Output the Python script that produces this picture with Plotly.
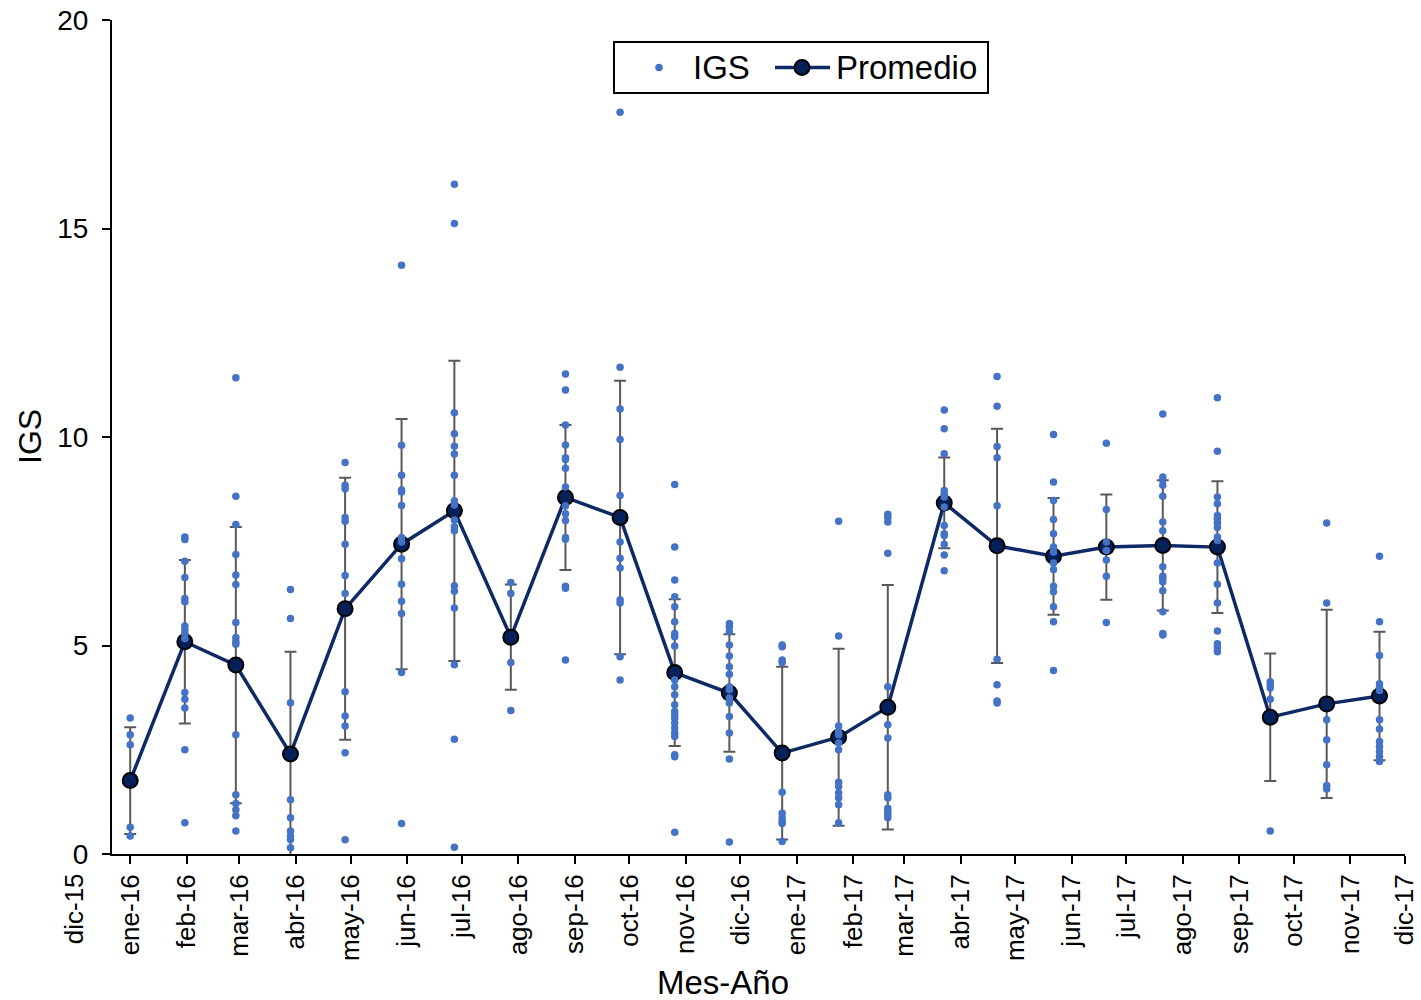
import plotly.graph_objects as go
from datetime import datetime

# Sampling dates (one campaign per month) and monthly summary statistics
sample_dates = [
    "2016-01-01", "2016-01-31", "2016-02-28", "2016-03-29", "2016-04-28", "2016-05-29",
    "2016-06-27", "2016-07-28", "2016-08-27", "2016-09-26", "2016-10-26", "2016-11-25",
    "2016-12-24", "2017-01-24", "2017-02-20", "2017-03-23", "2017-04-21", "2017-05-22",
    "2017-06-20", "2017-07-21", "2017-08-20", "2017-09-18", "2017-10-19", "2017-11-17",
]

promedio = [
    1.76, 5.09, 4.53, 2.40, 5.88, 7.43, 8.23, 5.20, 8.55, 8.07, 4.35, 3.86,
    2.42, 2.80, 3.52, 8.42, 7.39, 7.14, 7.36, 7.40, 7.36, 3.28, 3.60, 3.79,
]

desviacion = [
    1.28, 1.96, 3.31, 2.45, 3.14, 3.00, 3.60, 1.26, 1.74, 3.28, 1.76, 1.41,
    2.07, 2.12, 2.93, 1.09, 2.81, 1.40, 1.26, 1.56, 1.58, 1.53, 2.26, 1.54,
]

# Individual IGS values measured at each sampling date
igs_by_sample = [
    [3.26, 2.86, 2.62, 0.64, 0.43],
    [7.60, 7.54, 7.02, 6.63, 6.13, 6.05, 5.47, 5.37, 5.29, 5.17, 3.87, 3.71, 3.50, 2.50, 0.75],
    [11.42, 8.58, 7.90, 7.18, 6.69, 6.46, 5.55, 5.19, 5.09, 5.03, 2.86, 1.42, 1.21, 1.06, 0.92, 0.55],
    [6.34, 5.65, 3.63, 1.30, 0.87, 0.55, 0.43, 0.35, 0.15],
    [9.39, 8.84, 8.76, 8.07, 7.98, 7.43, 6.68, 6.25, 3.89, 3.31, 3.07, 2.43, 0.34],
    [14.12, 9.80, 9.08, 8.73, 8.68, 8.36, 7.59, 7.48, 7.08, 6.47, 6.06, 5.77, 4.35, 0.73],
    [16.06, 15.12, 10.58, 10.08, 9.78, 9.59, 9.08, 8.47, 8.37, 8.01, 7.85, 7.75, 6.43, 6.30,
     5.90, 4.54, 2.75, 0.16],
    [6.51, 6.25, 4.59, 3.44],
    [11.51, 11.13, 10.29, 9.81, 9.50, 9.46, 9.25, 8.80, 8.35, 8.16, 8.00, 7.59, 7.55, 6.42,
     6.37, 4.65],
    [17.79, 11.67, 10.67, 9.94, 8.60, 7.48, 7.09, 6.86, 6.10, 6.02, 4.73, 4.17],
    [8.86, 7.36, 6.57, 6.17, 5.93, 5.57, 5.29, 5.21, 4.99, 4.17, 4.01, 3.82, 3.58, 3.42, 3.34,
     3.26, 3.14, 3.02, 2.90, 2.82, 2.38, 2.33, 0.52],
    [5.53, 5.45, 5.33, 5.01, 4.75, 4.49, 4.31, 4.01, 3.94, 3.74, 3.62, 3.30, 2.90, 2.28, 0.29],
    [5.01, 4.97, 4.65, 4.59, 1.48, 0.98, 0.87, 0.78, 0.73, 0.30],
    [7.98, 5.23, 3.07, 2.94, 2.86, 2.66, 2.50, 1.72, 1.62, 1.46, 1.34, 1.18, 0.75],
    [8.15, 8.07, 7.96, 7.21, 4.01, 3.10, 2.78, 1.42, 1.34, 1.10, 1.02, 0.95, 0.87],
    [10.65, 10.20, 9.60, 8.72, 8.64, 8.56, 8.32, 7.88, 7.68, 7.64, 7.43, 7.17, 6.79],
    [11.45, 10.74, 9.77, 9.50, 8.35, 4.67, 4.06, 3.67, 3.62],
    [10.06, 8.92, 8.48, 8.02, 7.68, 7.36, 7.24, 6.98, 6.82, 6.42, 6.29, 5.93, 5.57, 4.40],
    [9.85, 8.26, 7.48, 7.28, 7.05, 6.66, 5.55],
    [10.55, 9.04, 8.96, 8.84, 8.58, 7.96, 7.75, 6.89, 6.66, 6.61, 6.53, 6.31, 5.81, 5.29, 5.25],
    [10.94, 9.66, 8.56, 8.40, 8.12, 8.04, 7.94, 7.83, 7.60, 7.52, 6.98, 6.47, 6.02, 5.35, 5.04,
     4.96, 4.85],
    [4.13, 4.05, 3.98, 3.71, 0.55],
    [7.94, 6.02, 3.22, 2.74, 2.14, 1.64, 1.56],
    [7.14, 5.57, 4.76, 4.08, 4.00, 3.92, 3.22, 3.00, 2.70, 2.58, 2.46, 2.34, 2.22],
]

# Monthly axis ticks
tick_dates = [
    "2016-01-01", "2016-02-01", "2016-03-01", "2016-04-01", "2016-05-01", "2016-06-01",
    "2016-07-01", "2016-08-01", "2016-09-01", "2016-10-01", "2016-11-01", "2016-12-01",
    "2017-01-01", "2017-02-01", "2017-03-01", "2017-04-01", "2017-05-01", "2017-06-01",
    "2017-07-01", "2017-08-01", "2017-09-01", "2017-10-01", "2017-11-01", "2017-12-01",
]
tick_labels = [
    "ene-16", "feb-16", "mar-16", "abr-16", "may-16", "jun-16", "jul-16", "ago-16",
    "sep-16", "oct-16", "nov-16", "dic-16", "ene-17", "feb-17", "mar-17", "abr-17",
    "may-17", "jun-17", "jul-17", "ago-17", "sep-17", "oct-17", "nov-17", "dic-17",
]
lead_tick_date = "2015-12-01"
lead_tick_label = "dic-15"

x_start = "2015-12-22"
x_end = "2017-12-01"

FONT = "Arial, 'Liberation Sans', sans-serif"
POINT_BLUE = "#4472C4"
NAVY = "#0E2A66"
MEAN_FILL = "#06215A"

# Figure geometry (pixels)
W, H = 1421, 1000
ML, MR, MT, MB = 112, 16, 20, 146
PW, PH = W - ML - MR, H - MT - MB


def fx(px):
    """Horizontal pixel position -> paper fraction."""
    return (px - ML) / PW


def fy(py):
    """Vertical pixel position (from top) -> paper fraction."""
    return (H - MB - py) / PH


# Flatten the individual values to (date, value) pairs
igs_x, igs_y = [], []
for d, vals in zip(sample_dates, igs_by_sample):
    igs_x.extend([d] * len(vals))
    igs_y.extend(vals)

fig = go.Figure()

fig.add_trace(go.Scatter(
    x=sample_dates, y=promedio, name="Promedio", mode="lines+markers",
    line=dict(color=NAVY, width=3.5),
    marker=dict(size=15, color=MEAN_FILL, line=dict(color="#000000", width=2)),
    error_y=dict(type="data", array=desviacion, color="#595959", thickness=2, width=6),
    showlegend=False,
))

fig.add_trace(go.Scatter(
    x=igs_x, y=igs_y, name="IGS", mode="markers",
    marker=dict(size=7.5, color=POINT_BLUE),
    showlegend=False,
))

# The first month label sits left of the plotting area; place it by date fraction
t0 = datetime.fromisoformat(x_start)
t1 = datetime.fromisoformat(x_end)
lead_frac = (datetime.fromisoformat(lead_tick_date) - t0) / (t1 - t0)

xtick_font = dict(family=FONT, size=26, color="#000000")
ytick_font = dict(family=FONT, size=28, color="#000000")
legend_font = dict(family=FONT, size=33, color="#000000")

# Legend box drawn with shapes and annotations
legend_box = dict(x0=614, x1=988, y0=42, y1=93)
legend_mid = (legend_box["y0"] + legend_box["y1"]) / 2

shapes = [
    dict(type="rect", xref="paper", yref="paper",
         x0=fx(legend_box["x0"]), x1=fx(legend_box["x1"]),
         y0=fy(legend_box["y1"]), y1=fy(legend_box["y0"]),
         line=dict(color="#000000", width=2), fillcolor="white", layer="above"),
    dict(type="circle", xref="paper", yref="paper", xsizemode="pixel", ysizemode="pixel",
         xanchor=fx(659), yanchor=fy(legend_mid), x0=-3.75, x1=3.75, y0=-3.75, y1=3.75,
         fillcolor=POINT_BLUE, line=dict(width=0), layer="above"),
    dict(type="line", xref="paper", yref="paper",
         x0=fx(775), x1=fx(830), y0=fy(legend_mid), y1=fy(legend_mid),
         line=dict(color=NAVY, width=3.5), layer="above"),
    dict(type="circle", xref="paper", yref="paper", xsizemode="pixel", ysizemode="pixel",
         xanchor=fx(802), yanchor=fy(legend_mid), x0=-7.5, x1=7.5, y0=-7.5, y1=7.5,
         fillcolor=MEAN_FILL, line=dict(color="#000000", width=2), layer="above"),
]

annotations = [
    dict(text="IGS", xref="paper", yref="paper", x=fx(691), y=fy(legend_mid),
         xanchor="left", yanchor="middle", showarrow=False, font=legend_font),
    dict(text="Promedio", xref="paper", yref="paper", x=fx(834), y=fy(legend_mid),
         xanchor="left", yanchor="middle", showarrow=False, font=legend_font),
    dict(text=lead_tick_label, xref="paper", yref="paper",
         x=lead_frac, y=0, xanchor="center", yanchor="top", yshift=-17,
         textangle=-90, showarrow=False, font=xtick_font),
    dict(text="Mes-Año", xref="paper", yref="paper",
         x=fx(723), y=fy(982), xanchor="center", yanchor="middle",
         showarrow=False, font=dict(family=FONT, size=33, color="#000000")),
    dict(text="IGS", xref="paper", yref="paper",
         x=fx(30), y=0.5, xanchor="center", yanchor="middle", textangle=-90,
         showarrow=False, font=dict(family=FONT, size=32, color="#000000")),
]

fig.update_layout(
    width=W, height=H,
    margin=dict(l=ML, r=MR, t=MT, b=MB),
    paper_bgcolor="white", plot_bgcolor="white",
    font=dict(family=FONT, color="#000000"),
    showlegend=False,
    xaxis=dict(
        type="date", range=[x_start, x_end], automargin=False,
        tickmode="array", tickvals=tick_dates, ticktext=tick_labels,
        tickangle=-90, tickfont=xtick_font,
        ticks="outside", ticklen=8, tickwidth=2, tickcolor="#000000",
        showline=True, linecolor="#000000", linewidth=2,
        showgrid=False, zeroline=False,
    ),
    yaxis=dict(
        range=[0, 20], automargin=False,
        tickmode="array", tickvals=[0, 5, 10, 15, 20],
        tickfont=ytick_font, ticklabelstandoff=8,
        ticks="outside", ticklen=8, tickwidth=2, tickcolor="#000000",
        showline=True, linecolor="#000000", linewidth=2,
        showgrid=False, zeroline=False,
    ),
    shapes=shapes,
    annotations=annotations,
)

fig.write_html("out.html")
